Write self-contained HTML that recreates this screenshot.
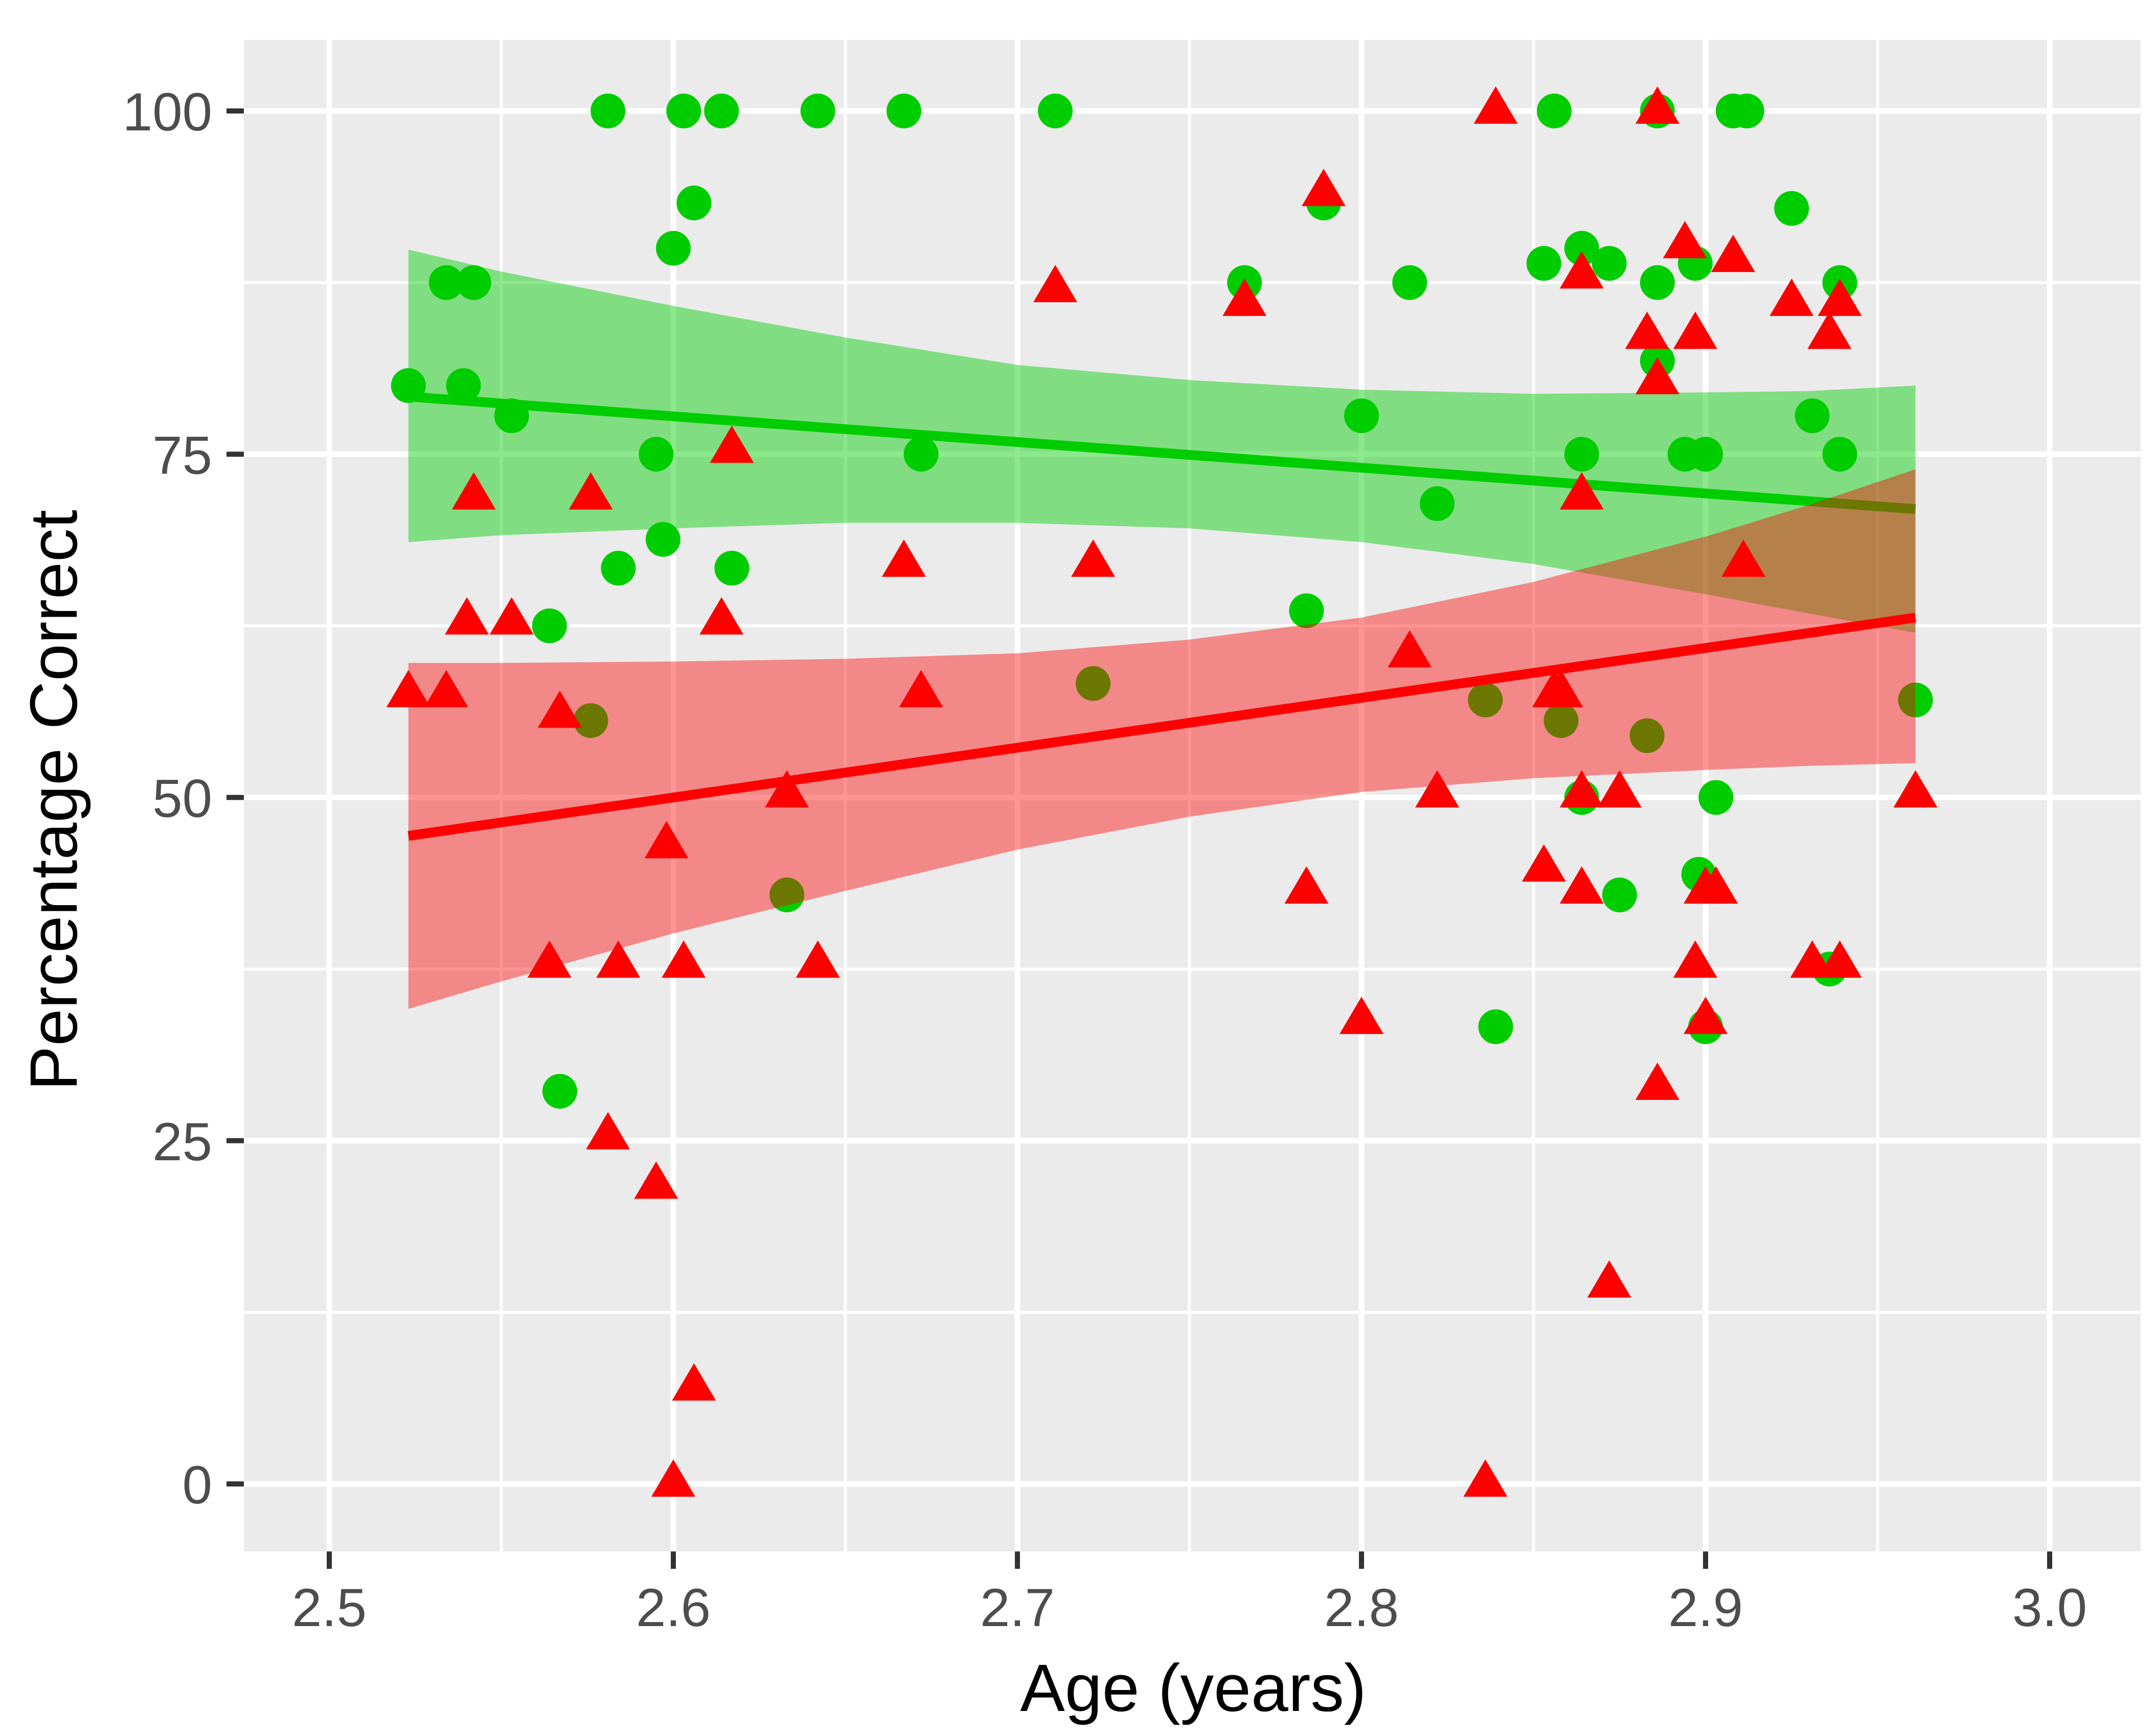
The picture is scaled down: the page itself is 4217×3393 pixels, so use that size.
<!DOCTYPE html>
<html><head><meta charset="utf-8"><style>
html,body{margin:0;padding:0;background:#fff}
svg{display:block}
text{font-family:"Liberation Sans",sans-serif}
</style></head><body>
<svg id="chart" width="4217" height="3393" viewBox="0 0 4217 3393" xmlns="http://www.w3.org/2000/svg">
<rect x="0" y="0" width="4217" height="3393" fill="#fff"/>
<rect x="477" y="78" width="3710" height="2956" fill="#EBEBEB"/>
<g id="grid"></g>
<g id="marks"></g>
<g id="axes"></g>
<text x="2334" y="3346" font-size="131" text-anchor="middle" fill="#000">Age (years)</text>
<text transform="translate(150,1565) rotate(-90)" font-size="131" text-anchor="middle" fill="#000">Percentage Correct</text>
</svg>
<script>
const xTicks=[2.5,2.6,2.7,2.8,2.9,3.0];
const xTickLabels=["2.5","2.6","2.7","2.8","2.9","3.0"];
const xMinor=[2.55,2.65,2.75,2.85,2.95];
const yTicks=[0,25,50,75,100];
const yTickLabels=["0","25","50","75","100"];
const yMinor=[12.5,37.5,62.5,87.5];
const greenX=[2.523,2.534,2.542,2.539,2.553,2.564,2.567,2.576,2.581,2.584,2.595,2.597,2.6,2.603,2.606,2.614,2.617,2.633,2.642,2.667,2.672,2.711,2.722,2.766,2.784,2.789,2.8,2.814,2.822,2.836,2.839,2.856,2.853,2.858,2.864,2.864,2.864,2.872,2.875,2.883,2.886,2.886,2.886,2.894,2.897,2.898,2.9,2.9,2.903,2.908,2.912,2.925,2.931,2.936,2.939,2.939,2.961];
const greenY=[80,87.5,87.5,80,77.8,62.5,28.6,55.6,100,66.7,75,68.8,90,100,93.3,100,66.7,42.9,100,100,75,100,58.3,87.5,63.6,93.3,77.8,87.5,71.4,57.1,33.3,100,88.9,55.6,90,75,50,88.9,42.9,54.5,100,87.5,81.8,75,88.9,44.4,75,33.3,50,100,100,92.9,77.8,37.5,87.5,75,57.1];
const redX=[2.523,2.534,2.54,2.542,2.553,2.564,2.567,2.576,2.581,2.584,2.595,2.598,2.6,2.603,2.606,2.614,2.617,2.633,2.642,2.667,2.672,2.711,2.722,2.766,2.784,2.789,2.8,2.814,2.822,2.836,2.839,2.853,2.856,2.858,2.864,2.864,2.864,2.864,2.872,2.875,2.883,2.886,2.886,2.886,2.894,2.897,2.897,2.9,2.9,2.903,2.908,2.911,2.925,2.931,2.936,2.939,2.939,2.961];
const redY=[57.5,57.5,62.8,71.9,62.8,37.8,56,71.9,25.3,37.8,21.7,46.5,0,37.8,7,62.8,75.3,50.2,37.8,67,57.5,87,67,86,43.2,94,33.7,60.4,50.2,0,100,44.8,57.5,57.5,88,71.9,50.2,43.2,14.5,50.2,83.6,100,80.3,28.9,90.2,83.6,37.8,43.2,33.7,43.2,89.2,67,86,37.8,83.6,86,37.8,50.2];
const bandX=[2.523,2.55,2.6,2.65,2.7,2.75,2.8,2.85,2.9,2.93,2.961];
const greenUpper=[89.9,88.3,85.8,83.5,81.5,80.4,79.7,79.4,79.5,79.6,80.0];
const greenLower=[68.6,69.1,69.6,70.0,70.0,69.6,68.6,67.0,64.8,63.4,62.0];
const redUpper=[59.8,59.8,59.9,60.1,60.5,61.5,63.1,65.7,69.0,71.3,73.9];
const redLower=[34.6,36.6,40.1,43.2,46.2,48.6,50.4,51.4,52.0,52.3,52.5];
const fitX=[2.523,2.961];
const greenFit=[79.2,71.0];
const redFit=[47.2,63.1];

const X=v=>644+(v-2.5)*6730;
const Y=v=>2902-v*26.85;
const NS="http://www.w3.org/2000/svg";
function mk(tag,attrs,parent){const e=document.createElementNS(NS,tag);for(const k in attrs)e.setAttribute(k,attrs[k]);parent.appendChild(e);return e;}
const grid=document.getElementById('grid'),marks=document.getElementById('marks'),axes=document.getElementById('axes');
const L=477,R=4187,T=78,B=3034;
xMinor.forEach(v=>{const e=mk('line',{x1:X(v),x2:X(v),y1:T,y2:B,stroke:'#fff','stroke-width':6},grid);

});
yMinor.forEach(v=>{const e=mk('line',{x1:L,x2:R,y1:Y(v),y2:Y(v),stroke:'#fff','stroke-width':6},grid);

});
xTicks.forEach((v,i)=>{const e=mk('line',{x1:X(v),x2:X(v),y1:T,y2:B,stroke:'#fff','stroke-width':11},grid);


const t=mk('line',{x1:X(v),x2:X(v),y1:B,y2:B+34,stroke:'#333','stroke-width':10},axes);


const l=mk('text',{x:X(v),y:3180,'font-size':105,'text-anchor':'middle',fill:'#4d4d4d'},axes);l.textContent=xTickLabels[i];

});
yTicks.forEach((v,i)=>{const e=mk('line',{x1:L,x2:R,y1:Y(v),y2:Y(v),stroke:'#fff','stroke-width':11},grid);


const t=mk('line',{x1:L-34,x2:L,y1:Y(v),y2:Y(v),stroke:'#333','stroke-width':10},axes);


const l=mk('text',{x:415,y:Y(v)+38,'font-size':105,'text-anchor':'end',fill:'#4d4d4d'},axes);l.textContent=yTickLabels[i];

});
function bandPath(up,lo){let d='';bandX.forEach((x,i)=>{d+=(i?'L':'M')+X(x)+','+Y(up[i]);});
for(let i=bandX.length-1;i>=0;i--)d+='L'+X(bandX[i])+','+Y(lo[i]);return d+'Z';}
const gb=mk('path',{d:bandPath(greenUpper,greenLower),fill:'#00CD00','fill-opacity':0.45},marks);


const gl=mk('line',{x1:X(fitX[0]),y1:Y(greenFit[0]),x2:X(fitX[1]),y2:Y(greenFit[1]),stroke:'#00CD00','stroke-width':19},marks);


greenX.forEach((x,i)=>{const c=mk('circle',{cx:X(x),cy:Y(greenY[i]),r:34,fill:'#00CD00'},marks);

});
const rb=mk('path',{d:bandPath(redUpper,redLower),fill:'#FF0000','fill-opacity':0.42},marks);


const rl=mk('line',{x1:X(fitX[0]),y1:Y(redFit[0]),x2:X(fitX[1]),y2:Y(redFit[1]),stroke:'#FF0000','stroke-width':19},marks);


redX.forEach((x,i)=>{const cx=X(x),cy=Y(redY[i]);
const p=mk('polygon',{points:`${cx},${cy-48} ${cx-43},${cy+25} ${cx+43},${cy+25}`,fill:'#FF0000'},marks);

});
</script>
</body></html>
